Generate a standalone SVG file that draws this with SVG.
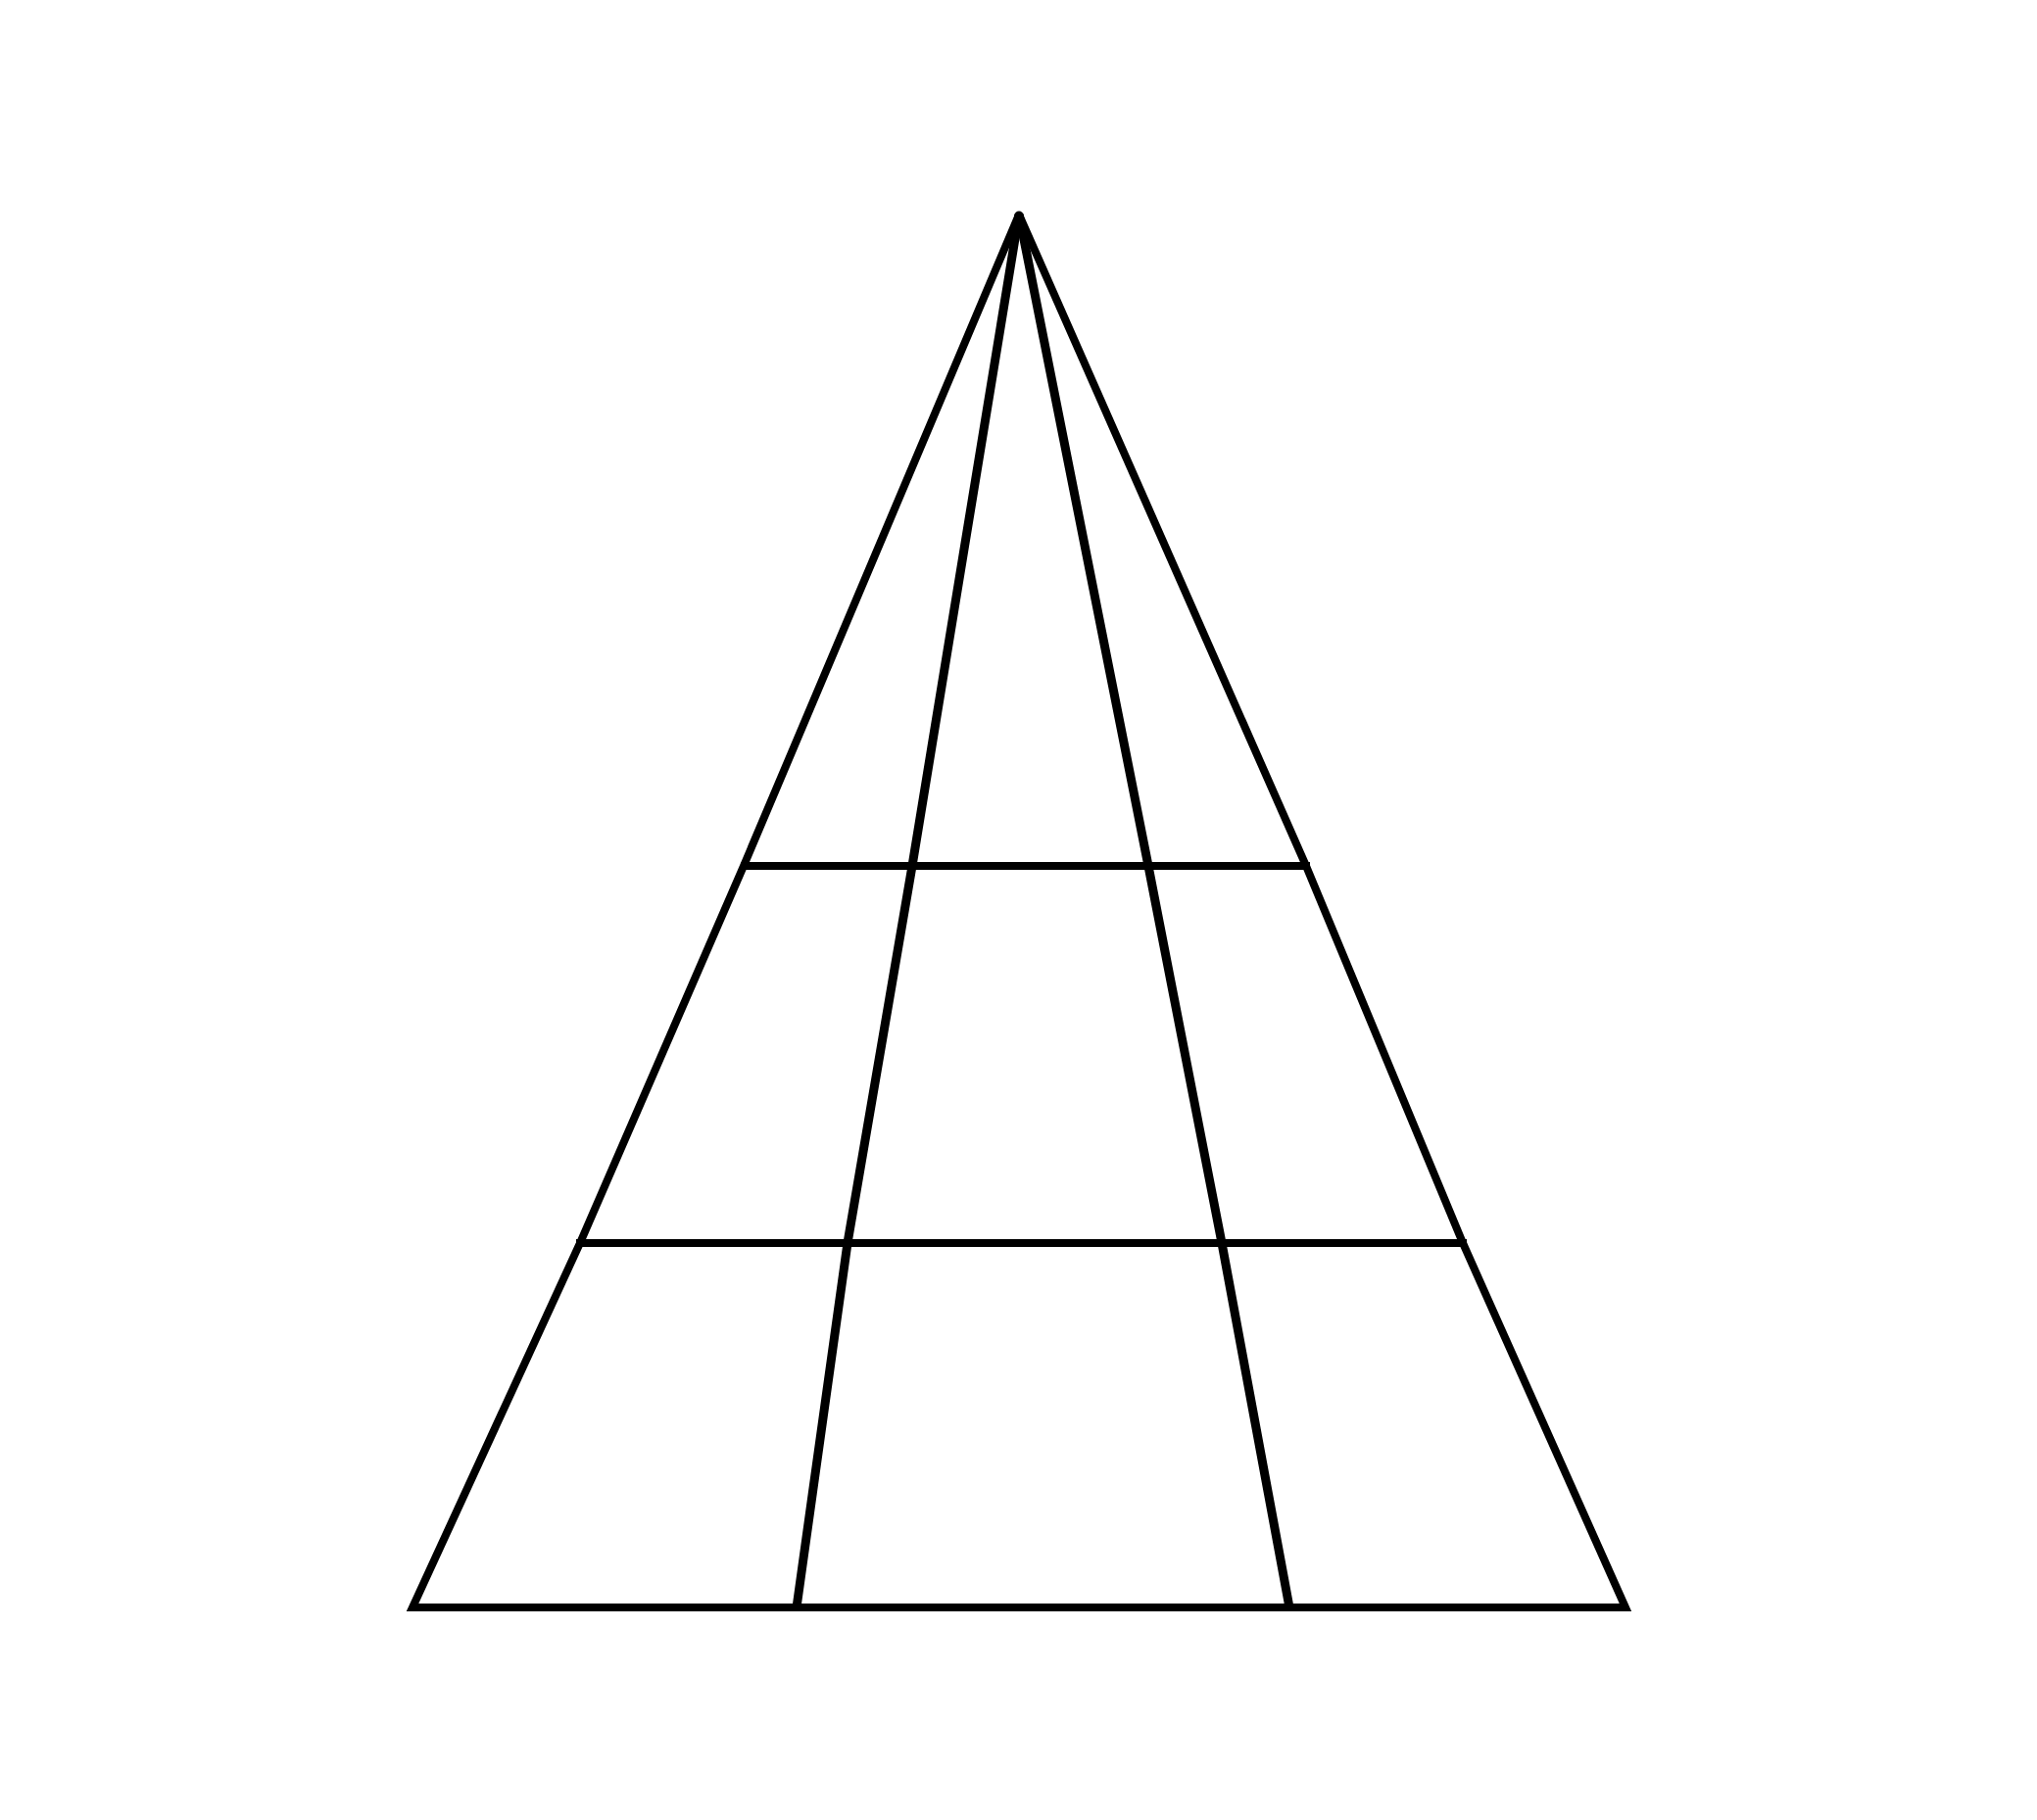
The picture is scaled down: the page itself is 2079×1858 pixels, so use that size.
<svg xmlns="http://www.w3.org/2000/svg" width="2079" height="1858" viewBox="0 0 2079 1858">
<style>
.ln{fill:none;stroke:#000;stroke-width:8;stroke-linejoin:miter;stroke-miterlimit:10}
.in{stroke-width:9}
</style>
<rect width="2079" height="1858" fill="#fff"/>
<g id="triangle">
<path class="ln" d="M1040,219 L759,884 L592,1269 L421,1641 L1659,1641 L1493,1269 L1333,884 L1040,219"/>
<circle cx="1040" cy="220" r="4.5" fill="#000"/>
</g>
<g id="inner-lines">
<path class="ln in" d="M1040,219 L931,884 L865,1269 L813,1641"/>
<path class="ln in" d="M1040,219 L1172,884 L1247,1269 L1316,1641"/>
</g>
<g id="horizontal-lines">
<path class="ln" d="M756,884 L1337,884"/>
<path class="ln" d="M588,1269 L1497,1269"/>
</g>
</svg>
